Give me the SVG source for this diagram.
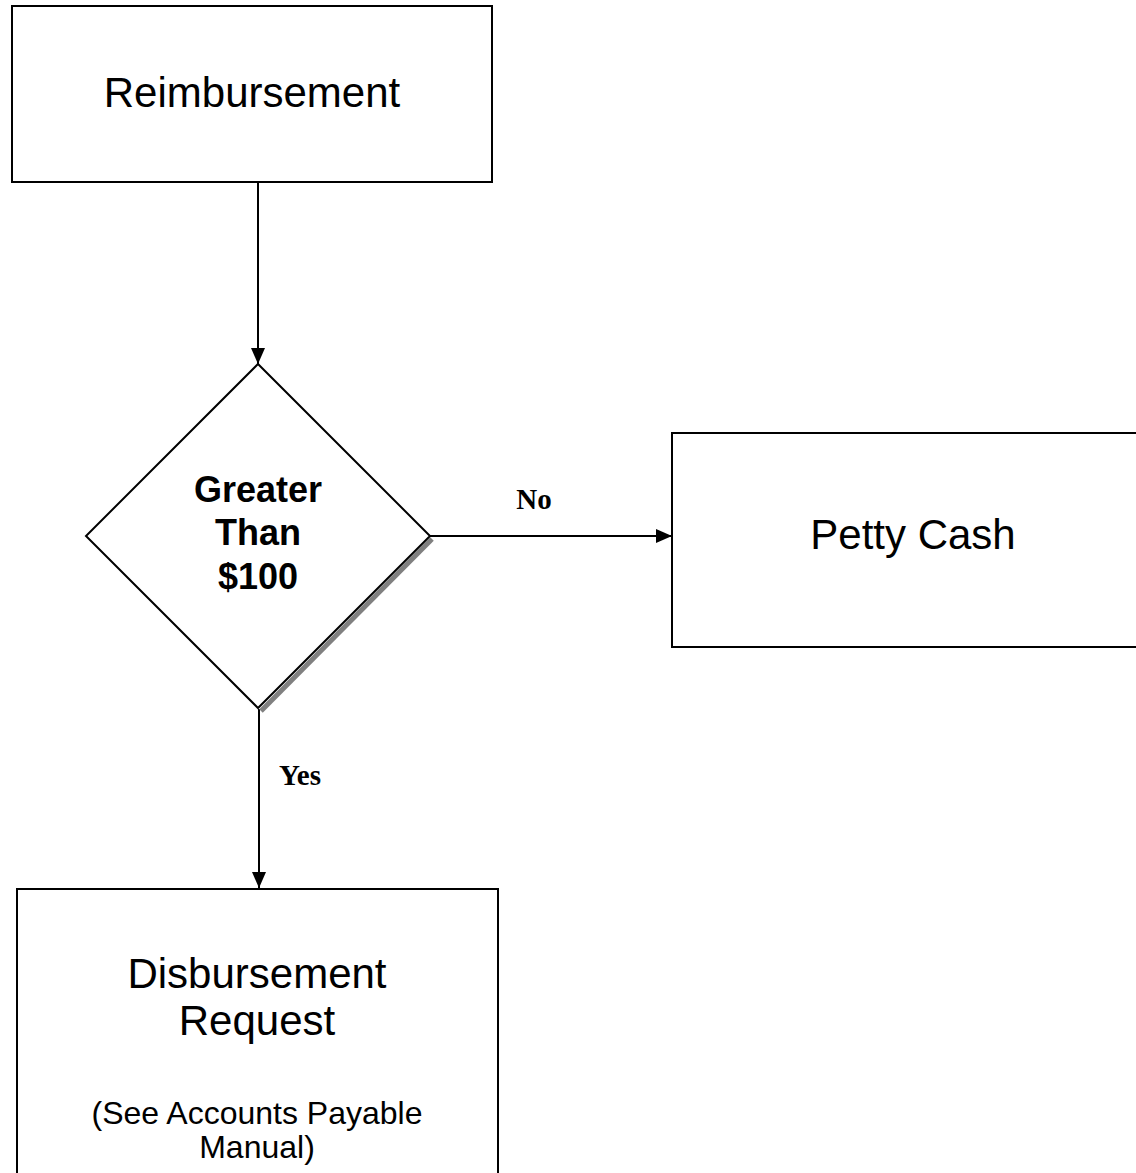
<svg xmlns="http://www.w3.org/2000/svg" width="1136" height="1173" viewBox="0 0 1136 1173">
<style>
.box{fill:#fff;stroke:#000;stroke-width:2}
.t{font-family:"Liberation Sans",Arial,sans-serif;fill:#000;text-anchor:middle}
.big{font-size:42px}
.sm{font-size:32px}
.bd{font-size:36px;font-weight:bold}
.lbl{font-family:"Liberation Serif","Times New Roman",serif;font-weight:bold;font-size:29px;fill:#000;text-anchor:middle}
.c{stroke:#000;stroke-width:2;fill:none}
</style>
<defs>
<marker id="ah" markerWidth="16" markerHeight="14" refX="16" refY="7" orient="auto" markerUnits="userSpaceOnUse">
<path d="M0,0 L16,7 L0,14 Z" fill="#000"/>
</marker>
</defs>
<rect width="1136" height="1173" fill="#fff"/>
<g id="connectors">
<line class="c" x1="258" y1="182" x2="258" y2="364" marker-end="url(#ah)"/>
<line class="c" x1="430" y1="536" x2="672" y2="536" marker-end="url(#ah)"/>
<line class="c" x1="259" y1="709" x2="259" y2="888" marker-end="url(#ah)"/>
<text class="lbl" x="534" y="509">No</text>
<text class="lbl" x="300" y="785">Yes</text>
</g>
<g id="reimbursement">
<rect class="box" x="12" y="6" width="480" height="176"/>
<text class="t big" x="252" y="107">Reimbursement</text>
</g>
<g id="decision">
<line x1="432" y1="539" x2="261" y2="711" stroke="#808080" stroke-width="5"/>
<polygon class="box" points="258,364 430,536 258,708 86,536"/>
<text class="t bd" x="258" y="502">Greater</text>
<text class="t bd" x="258" y="545">Than</text>
<text class="t bd" x="258" y="589">$100</text>
</g>
<g id="petty-cash">
<rect class="box" x="672" y="433" width="470" height="214"/>
<text class="t big" x="913" y="549">Petty Cash</text>
</g>
<g id="disbursement">
<rect class="box" x="17" y="889" width="481" height="300"/>
<text class="t big" x="257" y="988">Disbursement</text>
<text class="t big" x="257" y="1035">Request</text>
<text class="t sm" x="257" y="1124">(See Accounts Payable</text>
<text class="t sm" x="257" y="1158">Manual)</text>
</g>
</svg>
